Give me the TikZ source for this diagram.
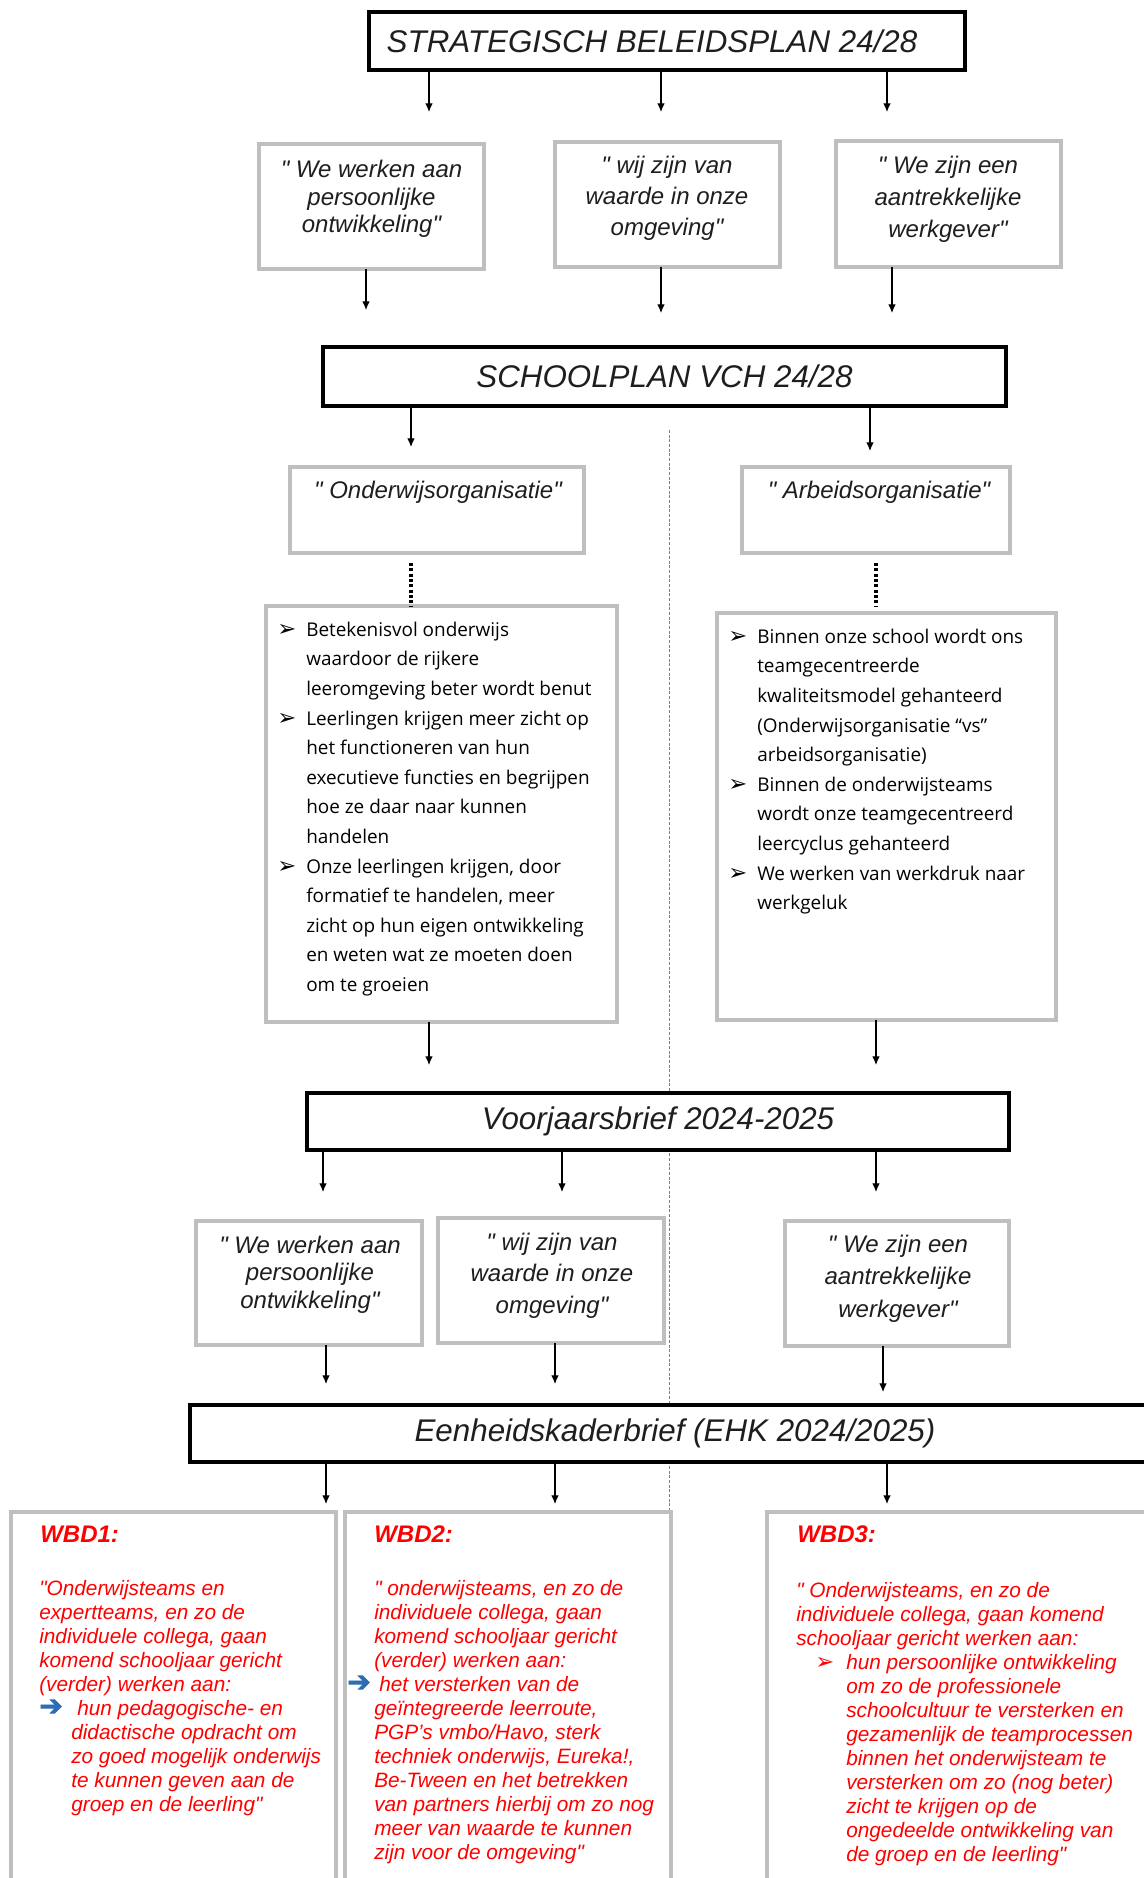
\documentclass[tikz,border=0pt]{standalone}
\usepackage{fontspec}
\usetikzlibrary{arrows.meta}
\newfontfamily\arialf{Liberation Sans}
\newfontfamily\aptosf{Open Sans}
\newfontfamily\djv{DejaVu Sans}
\newfontfamily\djvheavy[FakeBold=2.5]{DejaVu Sans}
\definecolor{boxgray}{HTML}{BFBFBF}
\definecolor{wbdred}{HTML}{FF0000}
\definecolor{arrblue}{HTML}{2E6DB4}
\definecolor{inkgray}{HTML}{1E1E1E}
\def\PX{0.75pt}
\newcommand\quotefont[1]{\arialf\itshape\fontsize{18}{#1}\selectfont}
\newcommand\listbul{\llap{\makebox[21.75pt][l]{\djv\fontsize{17}{17}\selectfont ➢}}}
\newcommand\bluearr{{\djvheavy\fontsize{21}{16}\selectfont\color{arrblue}➔}}
\newcommand\redbul{{\djv\fontsize{17}{17}\selectfont ➢}}
\begin{document}
\begin{tikzpicture}[x=0.75pt,y=-0.75pt,
  titlebox/.style={draw=black, line width=2.4pt, fill=white, inner sep=0pt, outer sep=0pt,
    text=inkgray, font=\arialf\itshape\fontsize{23.5}{28}\selectfont},
  graybox/.style={draw=boxgray, line width=2.4pt, fill=white, inner sep=0pt, outer sep=0pt},
  qtext/.style={inner sep=0pt, align=center, text=inkgray},
  listtext/.style={inner sep=0pt, align=left, text=black, font=\aptosf\fontsize{14.2}{22.2}\selectfont},
  wbdhead/.style={inner sep=0pt, text=wbdred, font=\arialf\bfseries\itshape\fontsize{18}{20}\selectfont},
  wbdtext/.style={inner sep=0pt, align=left, text=wbdred, font=\arialf\itshape\fontsize{15.6}{18}\selectfont},
  arr/.style={-{Latex[length=6.5pt,width=5.6pt]}, line width=0.8pt},
  divider/.style={draw=gray, line width=0.6pt, dash pattern=on 2.2pt off 1.3pt},
  dotline/.style={line width=2.7pt, dash pattern=on 2.2pt off 1.8pt}
]
\useasboundingbox (0,0) rectangle (1144,1878);

% vertical divider
\coordinate (dvtop) at (669,430);
\coordinate (dvbot) at (669,1512);
\draw[divider] (dvtop) -- (dvbot);

% ---------- Strategisch beleidsplan ----------
\node[titlebox, minimum width=596*\PX, minimum height=58*\PX] (sb) at (667,41)
  {STRATEGISCH BELEIDSPLAN 24/28\hspace*{22.5pt}\mbox{}};
\coordinate (e1) at (429,112);
\coordinate (e2) at (661,112);
\coordinate (e3) at (887,112);
\draw[arr] (sb.south -| e1) -- (e1);
\draw[arr] (sb.south -| e2) -- (e2);
\draw[arr] (sb.south -| e3) -- (e3);

% row 2
\node[graybox, minimum width=225*\PX, minimum height=125*\PX] (b1) at (371.5,206.5) {};
\node[graybox, minimum width=225*\PX, minimum height=125*\PX] (b2) at (667.5,204.5) {};
\node[graybox, minimum width=225*\PX, minimum height=126*\PX] (b3) at (948.5,204) {};
\node[qtext, font=\quotefont{20.85}, anchor=north] (b1t) at (371.5,157.5)
  {\strut" We werken aan\\persoonlijke\\ontwikkeling"};
\node[qtext, font=\quotefont{23.25}, anchor=north] (b2t) at (667,151.3)
  {\strut" wij zijn van\\waarde in onze\\omgeving"};
\node[qtext, font=\quotefont{24}, anchor=north] (b3t) at (948,150.6)
  {\strut" We zijn een\\aantrekkelijke\\werkgever"};
\coordinate (f1) at (366,310);
\coordinate (f2) at (661,313);
\coordinate (f3) at (892,313);
\draw[arr] (b1.south -| f1) -- (f1);
\draw[arr] (b2.south -| f2) -- (f2);
\draw[arr] (b3.south -| f3) -- (f3);

% ---------- Schoolplan ----------
\node[titlebox, minimum width=683*\PX, minimum height=59*\PX] (sp) at (664.5,376.5)
  {SCHOOLPLAN VCH 24/28};
\coordinate (g1) at (411,447);
\coordinate (g2) at (870,451);
\draw[arr] (sp.south -| g1) -- (g1);
\draw[arr] (sp.south -| g2) -- (g2);

\node[graybox, minimum width=294*\PX, minimum height=86*\PX] (ow) at (437,510) {};
\node[graybox, minimum width=268*\PX, minimum height=86*\PX] (ao) at (876,510) {};
\node[qtext, font=\quotefont{22}, anchor=base] (owt) at (438,498) {" Onderwijsorganisatie"};
\node[qtext, font=\quotefont{22}, anchor=base] (aot) at (879,498) {" Arbeidsorganisatie"};

% bullet boxes
\node[graybox, minimum width=351*\PX, minimum height=416*\PX] (lb) at (441.5,814) {};
\node[graybox, minimum width=339*\PX, minimum height=407*\PX] (rb) at (886.5,816.5) {};
\coordinate (d1) at (411,563);
\coordinate (d2) at (876,563);
\coordinate (d2e) at (876,607);
\draw[dotline] (d1) -- (d1 |- lb.north);
\draw[dotline] (d2) -- (d2e);

\node[listtext, anchor=north west] (lbt) at (306,615.3)
  {\strut\listbul Betekenisvol onderwijs\\
   waardoor de rijkere\\
   leeromgeving beter wordt benut\\
   \listbul Leerlingen krijgen meer zicht op\\
   het functioneren van hun\\
   executieve functies en begrijpen\\
   hoe ze daar naar kunnen\\
   handelen\\
   \listbul Onze leerlingen krijgen, door\\
   formatief te handelen, meer\\
   zicht op hun eigen ontwikkeling\\
   en weten wat ze moeten doen\\
   om te groeien};
\node[listtext, anchor=north west] (rbt) at (757,622.3)
  {\strut\listbul Binnen onze school wordt ons\\
   teamgecentreerde\\
   kwaliteitsmodel gehanteerd\\
   (Onderwijsorganisatie “vs”\\
   arbeidsorganisatie)\\
   \listbul Binnen de onderwijsteams\\
   wordt onze teamgecentreerd\\
   leercyclus gehanteerd\\
   \listbul We werken van werkdruk naar\\
   werkgeluk};

\coordinate (h1) at (429,1065);
\coordinate (h2) at (876,1065);
\draw[arr] (lb.south -| h1) -- (h1);
\draw[arr] (rb.south -| h2) -- (h2);

% ---------- Voorjaarsbrief ----------
\node[titlebox, minimum width=702*\PX, minimum height=57*\PX] (vb) at (658,1121.5)
  {Voorjaarsbrief 2024-2025};
\coordinate (i1) at (323,1192);
\coordinate (i2) at (562,1192);
\coordinate (i3) at (876,1192);
\draw[arr] (vb.south -| i1) -- (i1);
\draw[arr] (vb.south -| i2) -- (i2);
\draw[arr] (vb.south -| i3) -- (i3);

% row 4
\node[graybox, minimum width=226*\PX, minimum height=124*\PX] (ba) at (309,1283) {};
\node[graybox, minimum width=226*\PX, minimum height=125*\PX] (bb) at (551,1280.5) {};
\node[graybox, minimum width=224*\PX, minimum height=125*\PX] (bc) at (897,1283.5) {};
\node[qtext, font=\quotefont{20.6}, anchor=north] (bat) at (310,1233.8)
  {\strut" We werken aan\\persoonlijke\\ontwikkeling"};
\node[qtext, font=\quotefont{23.6}, anchor=north] (bbt) at (552,1228)
  {\strut" wij zijn van\\waarde in onze\\omgeving"};
\node[qtext, font=\quotefont{24.4}, anchor=north] (bct) at (898,1229)
  {\strut" We zijn een\\aantrekkelijke\\werkgever"};
\coordinate (j1) at (326,1384);
\coordinate (j2) at (555,1384);
\coordinate (j3) at (883,1392);
\draw[arr] (ba.south -| j1) -- (j1);
\draw[arr] (bb.south -| j2) -- (j2);
\draw[arr] (bc.south -| j3) -- (j3);

% ---------- EHK ----------
\node[titlebox, minimum width=970*\PX, minimum height=57*\PX] (eb) at (675,1433.5)
  {Eenheidskaderbrief (EHK 2024/2025)};
\coordinate (k1) at (326,1504);
\coordinate (k2) at (555,1504);
\coordinate (k3) at (887,1504);
\draw[arr] (eb.south -| k1) -- (k1);
\draw[arr] (eb.south -| k2) -- (k2);
\draw[arr] (eb.south -| k3) -- (k3);

% WBD boxes
\node[graybox, minimum width=325*\PX, minimum height=388*\PX] (w1) at (173.5,1706) {};
\node[graybox, minimum width=326*\PX, minimum height=388*\PX] (w2) at (508,1706) {};
\node[graybox, minimum width=403*\PX, minimum height=388*\PX] (w3) at (968.5,1706) {};

\node[wbdhead, anchor=base west] (w1h) at (40,1542) {WBD1:};
\node[wbdhead, anchor=base west] (w2h) at (374,1542) {WBD2:};
\node[wbdhead, anchor=base west] (w3h) at (797,1542) {WBD3:};

\node[wbdtext, anchor=north west] (w1t) at (39,1578.2)
  {\strut"Onderwijsteams en\\
   expertteams, en zo de\\
   individuele collega, gaan\\
   komend schooljaar gericht\\
   (verder) werken aan:\\
   \makebox[28.5pt][l]{\bluearr}hun pedagogische- en\\
   \hspace*{24pt}didactische opdracht om\\
   \hspace*{24pt}zo goed mogelijk onderwijs\\
   \hspace*{24pt}te kunnen geven aan de\\
   \hspace*{24pt}groep en de leerling"};

\node[wbdtext, anchor=north west] (w2t) at (374,1578.2)
  {\strut" onderwijsteams, en zo de\\
   individuele collega, gaan\\
   komend schooljaar gericht\\
   (verder) werken aan:\\
   \llap{\makebox[20.25pt][l]{\bluearr}}\hspace*{3.75pt}het versterken van de\\
   geïntegreerde leerroute,\\
   PGP’s vmbo/Havo, sterk\\
   techniek onderwijs, Eureka!,\\
   Be-Tween en het betrekken\\
   van partners hierbij om zo nog\\
   meer van waarde te kunnen\\
   zijn voor de omgeving"};

\node[wbdtext, anchor=north west] (w3t) at (796,1580.2)
  {\strut" Onderwijsteams, en zo de\\
   individuele collega, gaan komend\\
   schooljaar gericht werken aan:\\
   \hspace*{14.25pt}\makebox[23.25pt][l]{\color{wbdred}\redbul}hun persoonlijke ontwikkeling\\
   \hspace*{37.5pt}om zo de professionele\\
   \hspace*{37.5pt}schoolcultuur te versterken en\\
   \hspace*{37.5pt}gezamenlijk de teamprocessen\\
   \hspace*{37.5pt}binnen het onderwijsteam te\\
   \hspace*{37.5pt}versterken om zo (nog beter)\\
   \hspace*{37.5pt}zicht te krijgen op de\\
   \hspace*{37.5pt}ongedeelde ontwikkeling van\\
   \hspace*{37.5pt}de groep en de leerling"};
\end{tikzpicture}
\end{document}
